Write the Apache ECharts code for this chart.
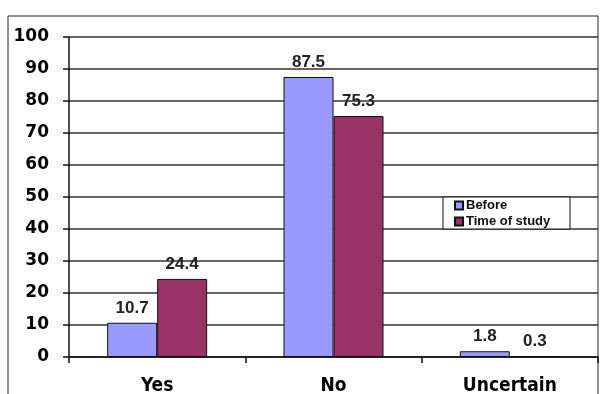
<!DOCTYPE html>
<html><head><meta charset="utf-8">
<script src="https://cdn.jsdelivr.net/npm/echarts@6/dist/echarts.min.js"></script>
<style>html,body{margin:0;padding:0;background:#fff}#c{width:608px;height:394px}</style>
</head><body><div id="c"></div>
<script>
const categories = ['Yes', 'No', 'Uncertain'];
const seriesNames = ['Before', 'Time of study'];
const beforeValues = [10.7, 87.5, 1.8];
const studyValues = [24.4, 75.3, 0.3];
const yTicks = [0, 10, 20, 30, 40, 50, 60, 70, 80, 90, 100];

const chart = echarts.init(document.getElementById('c'));
const labelStyle = {show: true, position: 'top', distance: 6, color: '#222', fontSize: 17, fontWeight: 'bold', fontFamily: 'Liberation Sans, Arial'};
chart.setOption({
  animation: false,
  backgroundColor: '#fff',
  grid: {left: 69, top: 37, right: 10, bottom: 37, containLabel: false, outerBoundsMode: 'none'},
  graphic: [
    {type: 'rect', shape: {x: 8, y: 16, width: 590, height: 400}, style: {fill: 'none', stroke: '#222', lineWidth: 1}, z: 0},
    {type: 'rect', shape: {x: 443, y: 197, width: 127, height: 32}, style: {fill: '#fff', stroke: '#111', lineWidth: 1}, z: 5}
  ],
  legend: {
    data: seriesNames, orient: 'vertical', left: 454, top: 199, itemWidth: 8, itemHeight: 8, itemGap: 3, padding: 0,
    icon: 'rect', z: 10,
    textStyle: {fontSize: 13, fontWeight: 'bold', color: '#111', fontFamily: 'Liberation Sans, Arial', padding: [0, 0, 0, -2]}
  },
  xAxis: {
    type: 'category', data: categories,
    axisLine: {lineStyle: {color: '#111', width: 1.5}},
    axisTick: {show: true, length: 6, lineStyle: {color: '#111', width: 1.5}},
    axisLabel: {margin: 20, color: '#000', fontSize: 19, fontWeight: 'bold', fontFamily: 'DejaVu Sans Condensed, DejaVu Sans'}
  },
  yAxis: {
    type: 'value', min: yTicks[0], max: yTicks[yTicks.length - 1], interval: 10,
    axisLine: {show: true, lineStyle: {color: '#111', width: 1.5}},
    axisTick: {show: true, length: 6, lineStyle: {color: '#111', width: 1.5}},
    splitLine: {lineStyle: {color: '#333', width: 1.5}},
    axisLabel: {margin: 20, color: '#000', fontSize: 17, fontWeight: 'bold', fontFamily: 'DejaVu Sans'}
  },
  series: [
    {name: seriesNames[0], type: 'bar', data: beforeValues, barWidth: 50, barGap: '0%',
     itemStyle: {color: '#9999FF', borderColor: '#111', borderWidth: 1}, label: labelStyle},
    {name: seriesNames[1], type: 'bar', data: studyValues, barWidth: 50, barGap: '0%',
     itemStyle: {color: '#993366', borderColor: '#111', borderWidth: 1}, label: labelStyle}
  ]
});
</script></body></html>
